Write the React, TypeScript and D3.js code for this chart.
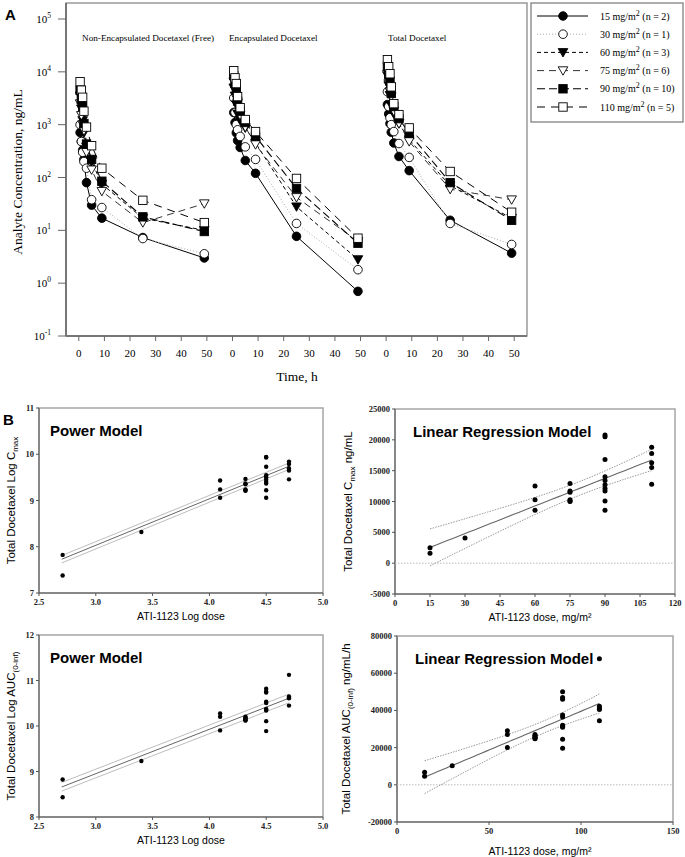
import React from "react";
import * as d3 from "d3";

// ---------------- Panel A data ----------------
const sampleTimes = [0.5, 1, 1.5, 2, 3, 5, 9, 25, 49];
const panelTitles = ["Non-Encapsulated Docetaxel (Free)", "Encapsulated Docetaxel", "Total Docetaxel"];
const doseLevels = [15, 30, 60, 75, 90, 110];
const doseCounts = [2, 1, 3, 6, 10, 5];
const timeTicks = [0, 10, 20, 30, 40, 50];
const logTickExps = [-1, 0, 1, 2, 3, 4, 5];

const freeConc = [
  [710, 480, 330, 220, 80, 30, 17, 7.3, 3.0],
  [1000, 480, 300, 200, 150, 38, 27, 7, 3.6],
  [3500, 2000, 1200, 700, 380, 200, 75, 17, 10],
  [2500, 1500, 1000, 770, 300, 140, 55, 14, 32],
  [4500, 3000, 2200, 1050, 430, 220, 85, 18, 9.5],
  [6500, 4500, 3300, 1800, 900, 400, 150, 37, 14],
];
const encapConc = [
  [1700, 1100, 700, 500, 370, 210, 120, 7.7, 0.7],
  [3200, 1700, 1000, 800, 600, 380, 220, 13.5, 1.8],
  [5000, 3500, 2400, 1600, 1200, 870, 450, 28, 2.8],
  [6500, 4500, 3200, 2600, 1500, 900, 420, 42, 6.2],
  [8500, 6000, 4500, 2800, 1800, 1100, 600, 62, 5.7],
  [10500, 7700, 6000, 3400, 2100, 1250, 740, 96, 7.1],
];
const totalConc = [
  [2400, 1600, 1050, 720, 450, 250, 135, 15.5, 3.7],
  [4200, 2200, 1350, 1000, 740, 440, 240, 13.5, 5.4],
  [8500, 5500, 3600, 2300, 1600, 1050, 520, 70, 17],
  [9000, 6000, 4200, 3400, 1800, 1050, 480, 60, 38],
  [13000, 9000, 6700, 3900, 2200, 1300, 690, 80, 15.5],
  [17000, 12500, 9200, 5200, 2500, 1550, 870, 130, 22],
];

// ---------------- Panel B data ----------------
const cmax15 = [2500, 1600];
const cmax30 = [4100];
const cmax60 = [12500, 10300, 8600];
const cmax75 = [12900, 11700, 11500, 10300, 10100, 10000];
const cmax90 = [20800, 20500, 16800, 14000, 13400, 12700, 12100, 11700, 10100, 8600];
const cmax110 = [18800, 17800, 16300, 15500, 12800];

const auc15 = [6800, 4600];
const auc30 = [10200];
const auc60 = [29000, 27000, 20000];
const auc75 = [27000, 26500, 26000, 25500, 25000, 24800];
const auc90 = [50000, 47000, 46000, 37500, 36500, 32000, 31500, 31000, 24500, 19700];
const auc110 = [67800, 42200, 41000, 40500, 34500];

// power-model fitted line and band, at log dose ends
const powerFitX = [2.7, 4.7];
const powerCmaxMid = [7.73, 9.74];
const powerCmaxHi = [7.81, 9.81];
const powerCmaxLo = [7.65, 9.67];
const powerAucMid = [8.66, 10.61];
const powerAucHi = [8.76, 10.7];
const powerAucLo = [8.57, 10.51];
const tCrit = 2.06; // t(0.975, df=25)

const cmaxGroups = [cmax15, cmax30, cmax60, cmax75, cmax90, cmax110];
const aucGroups = [auc15, auc30, auc60, auc75, auc90, auc110];

// ---------------- styles ----------------
const serif = "'Liberation Serif', 'Times New Roman', serif";
const sans = "'Liberation Sans', Arial, sans-serif";

const seriesStyle = [
  { dash: undefined, color: "#000", width: 1, marker: "circleFilled" },
  { dash: "1,2", color: "#aaa", width: 1, marker: "circleOpen" },
  { dash: "4,3", color: "#000", width: 1, marker: "triFilled" },
  { dash: "7,5", color: "#333", width: 1, marker: "triOpen" },
  { dash: "8,4", color: "#000", width: 1.1, marker: "squareFilled" },
  { dash: "8,6", color: "#000", width: 1, marker: "squareOpen" },
];

function Marker({ kind, x, y }: { kind: string; x: number; y: number }) {
  const sw = 0.9;
  if (kind === "circleFilled") return <circle cx={x} cy={y} r={4.3} fill="#000" stroke="#000" strokeWidth={sw} />;
  if (kind === "circleOpen") return <circle cx={x} cy={y} r={4.3} fill="#fff" stroke="#000" strokeWidth={sw} />;
  if (kind === "squareFilled") return <rect x={x - 4.2} y={y - 4.2} width={8.4} height={8.4} fill="#000" stroke="#000" strokeWidth={sw} />;
  if (kind === "squareOpen") return <rect x={x - 4.2} y={y - 4.2} width={8.4} height={8.4} fill="#fff" stroke="#000" strokeWidth={sw} />;
  const pts = `${x - 4.8},${y - 3.8} ${x + 4.8},${y - 3.8} ${x},${y + 4.6}`;
  if (kind === "triFilled") return <polygon points={pts} fill="#000" stroke="#000" strokeWidth={sw} />;
  return <polygon points={pts} fill="#fff" stroke="#000" strokeWidth={sw} />;
}

function PanelA() {
  const L = 66, R = 527, T = 3, B = 336;
  const segW = (R - L) / 3;
  const y = d3.scaleLog().domain([0.1, 1e5]).range([B, 19]);
  const panels = [freeConc, encapConc, totalConc];
  const titleX = [82, 229, 388];
  return (
    <g>
      <text x={5} y={20} fontFamily={sans} fontWeight="bold" fontSize={15}>A</text>
      {/* frame */}
      <rect x={L} y={T} width={R - L} height={B - T} fill="none" stroke="#8a8a8a" strokeWidth={1.3} />
      <line x1={L} y1={T} x2={L} y2={B} stroke="#777" strokeWidth={2} />
      <line x1={L} y1={B} x2={R} y2={B} stroke="#777" strokeWidth={2} />
      {/* y ticks */}
      {logTickExps.map((e) => (
        <g key={e}>
          <line x1={58} x2={L} y1={y(Math.pow(10, e))} y2={y(Math.pow(10, e))} stroke="#666" strokeWidth={1} />
          <text x={51} y={y(Math.pow(10, e)) + 4} textAnchor="end" fontFamily={serif} fontSize={11}>
            10<tspan dy={-5} fontSize={7.5}>{e}</tspan>
          </text>
        </g>
      ))}
      <text transform={`translate(22,172) rotate(-90)`} textAnchor="middle" fontFamily={serif} fontSize={13.5}>
        Analyte Concentration, ng/mL
      </text>
      <text x={297} y={381} textAnchor="middle" fontFamily={serif} fontSize={13.5}>Time, h</text>
      {panels.map((data, p) => {
        const x = d3.scaleLinear().domain([-5, 55]).range([L + p * segW, L + (p + 1) * segW]);
        const line = d3.line<number>().x((_, i) => x(sampleTimes[i])).y((d) => y(d));
        return (
          <g key={p}>
            <text x={titleX[p]} y={41} fontFamily={serif} fontSize={9.2}>{panelTitles[p]}</text>
            {timeTicks.map((t) => (
              <g key={t}>
                <line x1={x(t)} x2={x(t)} y1={B} y2={B + 5} stroke="#666" />
                <text x={x(t)} y={357} textAnchor="middle" fontFamily={serif} fontSize={11}>{t}</text>
              </g>
            ))}
            {data.map((s, si) => (
              <path key={si} d={line(s) || ""} fill="none" stroke={seriesStyle[si].color}
                strokeWidth={seriesStyle[si].width} strokeDasharray={seriesStyle[si].dash} />
            ))}
            {data.map((s, si) => (
              <g key={si}>
                {s.map((v, i) => (
                  <Marker key={i} kind={seriesStyle[si].marker} x={x(sampleTimes[i])} y={y(v)} />
                ))}
              </g>
            ))}
          </g>
        );
      })}
      {/* legend */}
      <rect x={531} y={3} width={152} height={119} fill="#fff" stroke="#777" strokeWidth={1.2} />
      {doseLevels.map((d, i) => {
        const yy = 16 + i * 18.2;
        const st = seriesStyle[i];
        return (
          <g key={d}>
            <line x1={537} x2={588} y1={yy} y2={yy} stroke={st.color} strokeWidth={st.width} strokeDasharray={st.dash} />
            <Marker kind={st.marker} x={563} y={yy} />
            <text x={600} y={yy + 3.5} fontFamily={serif} fontSize={10}>
              {d} mg/m<tspan dy={-4} fontSize={8}>2</tspan>
              <tspan dy={4}>{` (n = ${doseCounts[i]})`}</tspan>
            </text>
          </g>
        );
      })}
    </g>
  );
}

function ols(xs: number[], ys: number[]) {
  const n = xs.length;
  const mx = d3.mean(xs) as number, my = d3.mean(ys) as number;
  const sxx = d3.sum(xs, (v) => (v - mx) ** 2);
  const sxy = d3.sum(xs.map((v, i) => (v - mx) * (ys[i] - my)));
  const b = sxy / sxx, a = my - b * mx;
  const sse = d3.sum(xs.map((v, i) => (ys[i] - a - b * v) ** 2));
  const s = Math.sqrt(sse / (n - 2));
  return { n, mx, sxx, a, b, s };
}

type BCfg = {
  left: number; right: number; top: number; bottom: number;
  xDom: number[]; yDom: number[]; xTicks: number[]; yTicks: number[];
  xFmt: (v: number) => string; power: boolean; groups: number[][];
  title: string; xTitleY: number; yTitle: React.ReactNode; yTitleX: number; xTitle: React.ReactNode;
  fit?: { mid: number[]; hi: number[]; lo: number[] };
};

function PanelB({ c }: { c: BCfg }) {
  const x = d3.scaleLinear().domain(c.xDom).range([c.left, c.right]);
  const y = d3.scaleLinear().domain(c.yDom).range([c.bottom, c.top]);
  const pts: { x: number; y: number }[] = [];
  c.groups.forEach((g, gi) => g.forEach((v) => {
    pts.push(c.power ? { x: Math.log(doseLevels[gi]), y: Math.log(v) } : { x: doseLevels[gi], y: v });
  }));
  let lines: React.ReactNode = null;
  if (c.power && c.fit) {
    const mk = (arr: number[]) => d3.line<number>().x((_, i) => x(powerFitX[i])).y((d) => y(d))(arr) || "";
    lines = (
      <g>
        <path d={mk(c.fit.hi)} stroke="#bdbdbd" fill="none" strokeWidth={1} />
        <path d={mk(c.fit.lo)} stroke="#bdbdbd" fill="none" strokeWidth={1} />
        <path d={mk(c.fit.mid)} stroke="#666" fill="none" strokeWidth={1} />
      </g>
    );
  } else {
    const f = ols(pts.map((p) => p.x), pts.map((p) => p.y));
    const x0 = d3.min(doseLevels) as number, x1 = d3.max(doseLevels) as number;
    const grid = d3.range(0, 41).map((i) => x0 + ((x1 - x0) * i) / 40);
    const band = grid.map((gx) => {
      const yh = f.a + f.b * gx;
      const se = f.s * Math.sqrt(1 / f.n + (gx - f.mx) ** 2 / f.sxx);
      return { gx, mid: yh, lo: yh - tCrit * se, hi: yh + tCrit * se };
    });
    const ln = (key: "mid" | "lo" | "hi") =>
      d3.line<typeof band[0]>().x((d) => x(d.gx)).y((d) => y(d[key]))(band) || "";
    lines = (
      <g>
        <line x1={c.left} x2={c.right} y1={y(0)} y2={y(0)} stroke="#bbb" strokeDasharray="1.5,1.5" />
        <path d={ln("hi")} stroke="#999" fill="none" strokeWidth={1} strokeDasharray="1.5,1.2" />
        <path d={ln("lo")} stroke="#999" fill="none" strokeWidth={1} strokeDasharray="1.5,1.2" />
        <path d={ln("mid")} stroke="#666" fill="none" strokeWidth={1.1} />
      </g>
    );
  }
  const cx = (c.left + c.right) / 2;
  return (
    <g>
      <rect x={c.left} y={c.top} width={c.right - c.left} height={c.bottom - c.top} fill="none" stroke="#a5a5a5" strokeWidth={1.5} />
      <line x1={c.left} x2={c.left} y1={c.top} y2={c.bottom} stroke="#555" />
      <line x1={c.left} x2={c.right} y1={c.bottom} y2={c.bottom} stroke="#555" />
      {c.yTicks.map((t) => (
        <g key={t}>
          <line x1={c.left - 3} x2={c.left} y1={y(t)} y2={y(t)} stroke="#555" />
          <text x={c.left - 5} y={y(t) + 3} textAnchor="end" fontFamily={serif} fontWeight="bold" fontSize={8.5} fill="#222">{t}</text>
        </g>
      ))}
      {c.xTicks.map((t) => (
        <g key={t}>
          <line x1={x(t)} x2={x(t)} y1={c.bottom} y2={c.bottom + 3} stroke="#555" />
          <text x={x(t)} y={c.bottom + 12} textAnchor="middle" fontFamily={serif} fontWeight="bold" fontSize={8.5} fill="#222">{c.xFmt(t)}</text>
        </g>
      ))}
      {lines}
      {pts.map((p, i) => (
        <circle key={i} cx={x(p.x)} cy={y(p.y)} r={c.power ? 2.2 : 2.5} fill="#000" />
      ))}
      <text x={c.left + (c.power ? 11 : 18)} y={c.top + 28} fontFamily={sans} fontWeight="bold" fontSize={15}>{c.title}</text>
      <text x={cx + (c.power ? 0 : 5)} y={c.xTitleY} textAnchor="middle" fontFamily={sans} fontSize={10.5}>{c.xTitle}</text>
      <text transform={`translate(${c.yTitleX},${(c.top + c.bottom) / 2}) rotate(-90)`} textAnchor="middle" fontFamily={sans} fontSize={11.5}>
        {c.yTitle}
      </text>
    </g>
  );
}

export default function App() {
  const f1 = d3.format(".1f");
  const plain = (v: number) => String(v);
  const cfgs: BCfg[] = [
    {
      left: 39, right: 323, top: 408, bottom: 593, xDom: [2.5, 5], yDom: [7, 11],
      xTicks: [2.5, 3, 3.5, 4, 4.5, 5], yTicks: [7, 8, 9, 10, 11], xFmt: f1, power: true, groups: cmaxGroups,
      title: "Power Model", xTitleY: 620, yTitleX: 15, xTitle: "ATI-1123 Log dose",
      yTitle: <>Total Docetaxel Log C<tspan dy={3} fontSize={8}>max</tspan></>,
      fit: { mid: powerCmaxMid, hi: powerCmaxHi, lo: powerCmaxLo },
    },
    {
      left: 395, right: 675, top: 409, bottom: 594, xDom: [0, 120], yDom: [-5000, 25000],
      xTicks: d3.range(0, 121, 15), yTicks: d3.range(-5000, 25001, 5000), xFmt: plain, power: false, groups: cmaxGroups,
      title: "Linear Regression Model", xTitleY: 621, yTitleX: 352, xTitle: "ATI-1123 dose, mg/m²",
      yTitle: <>Total Docetaxel C<tspan dy={3} fontSize={8}>max</tspan><tspan dy={-3}> ng/mL</tspan></>,
    },
    {
      left: 39, right: 323, top: 635, bottom: 817, xDom: [2.5, 5], yDom: [8, 12],
      xTicks: [2.5, 3, 3.5, 4, 4.5, 5], yTicks: [8, 9, 10, 11, 12], xFmt: f1, power: true, groups: aucGroups,
      title: "Power Model", xTitleY: 844, yTitleX: 15, xTitle: "ATI-1123 Log dose",
      yTitle: <>Total Docetaxel Log AUC<tspan dy={3} fontSize={8}>(0-inf)</tspan></>,
      fit: { mid: powerAucMid, hi: powerAucHi, lo: powerAucLo },
    },
    {
      left: 397, right: 673, top: 636, bottom: 822, xDom: [0, 150], yDom: [-20000, 80000],
      xTicks: [0, 50, 100, 150], yTicks: d3.range(-20000, 80001, 20000), xFmt: plain, power: false, groups: aucGroups,
      title: "Linear Regression Model", xTitleY: 855, yTitleX: 350, xTitle: "ATI-1123 dose, mg/m²",
      yTitle: <>Total Docetaxel AUC<tspan dy={3} fontSize={8}>(0-inf)</tspan><tspan dy={-3}> ng/mL/h</tspan></>,
    },
  ];
  return (
    <svg width={685} height={857} viewBox="0 0 685 857"
      style={{ position: "absolute", left: 0, top: 0, background: "#fff", display: "block" }}>
      <rect x={0} y={0} width={685} height={857} fill="#fff" />
      <PanelA />
      <text x={3} y={425} fontFamily={sans} fontWeight="bold" fontSize={15}>B</text>
      {cfgs.map((c, i) => <PanelB key={i} c={c} />)}
    </svg>
  );
}
